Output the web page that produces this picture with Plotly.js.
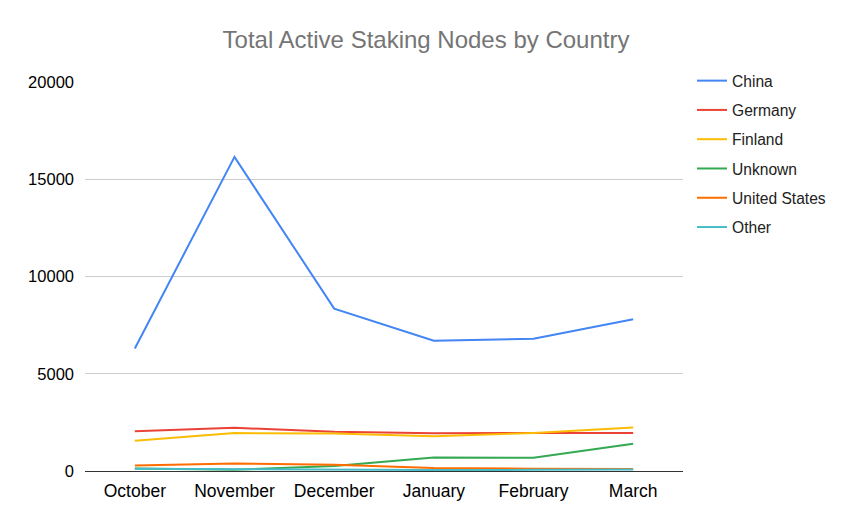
<!DOCTYPE html>
<html><head><meta charset="utf-8">
<script src="https://cdn.plot.ly/plotly-3.0.1.min.js"></script>
<style>html,body{margin:0;padding:0;background:#fff}#chart{width:852px;height:528px}</style>
</head><body><div id="chart"></div>
<script>
const months = ["October","November","December","January","February","March"];
const seriesNames = ["China","Germany","Finland","Unknown","United States","Other"];
const china = [6300,16150,8350,6700,6800,7800];
const germany = [2050,2220,2020,1940,1960,1960];
const finland = [1560,1950,1930,1790,1960,2240];
const unknown = [130,60,260,690,680,1400];
const unitedStates = [280,380,320,160,120,100];
const other = [110,90,60,50,60,80];
const yTicks = [0,5000,10000,15000,20000];
const colors = ["#4285F4","#EA4335","#FBBC04","#34A853","#FF6D01","#46BDC6"];
const allSeries = [china,germany,finland,unknown,unitedStates,other];

const traces = allSeries.map((vals,i)=>({
  x: months, y: vals, name: seriesNames[i], type:'scatter', mode:'lines',
  line:{color:colors[i], width:2}, legendgroup:'g'+i
}));

const F = '"Liberation Sans", Arial, sans-serif';
const mt = 40, mb = 57, H = 528;
const plotH = H - mt - mb;
const layout = {
  width:852, height:H,
  margin:{l:85, r:169, t:mt, b:mb},
  paper_bgcolor:'#fff', plot_bgcolor:'#fff',
  font:{family:F, color:'#000'},
  title:{text:'Total Active Staking Nodes by Country', x:0.5, xanchor:'center', xref:'container', y:1-40/H, yanchor:'middle',
    font:{size:24, color:'#757575', family:F}},
  xaxis:{type:'category', range:[-0.5,5.5], showgrid:false, showline:true, linecolor:'#333', linewidth:1,
    ticks:'', tickfont:{size:17.5, color:'#000', family:F}, zeroline:false, fixedrange:true, ticklabelstandoff:4},
  yaxis:{range:[0,20000], domain:[0,(471-82)/plotH], tickvals:yTicks, ticktext:yTicks.map(String),
    gridcolor:'#cccccc', gridwidth:1, zeroline:false, showline:false, ticks:'',
    tickfont:{size:16.5, color:'#000', family:F}, ticklabelstandoff:10},
  showlegend:true,
  legend:{x:1+9/598, xanchor:'left', y:(471-64)/plotH, yanchor:'top', font:{size:15.6, color:'#222', family:F},
    tracegroupgap:6, itemwidth:30, bgcolor:'rgba(0,0,0,0)'}
};
Plotly.newPlot('chart', traces, layout, {displayModeBar:false, staticPlot:true});
</script></body></html>
